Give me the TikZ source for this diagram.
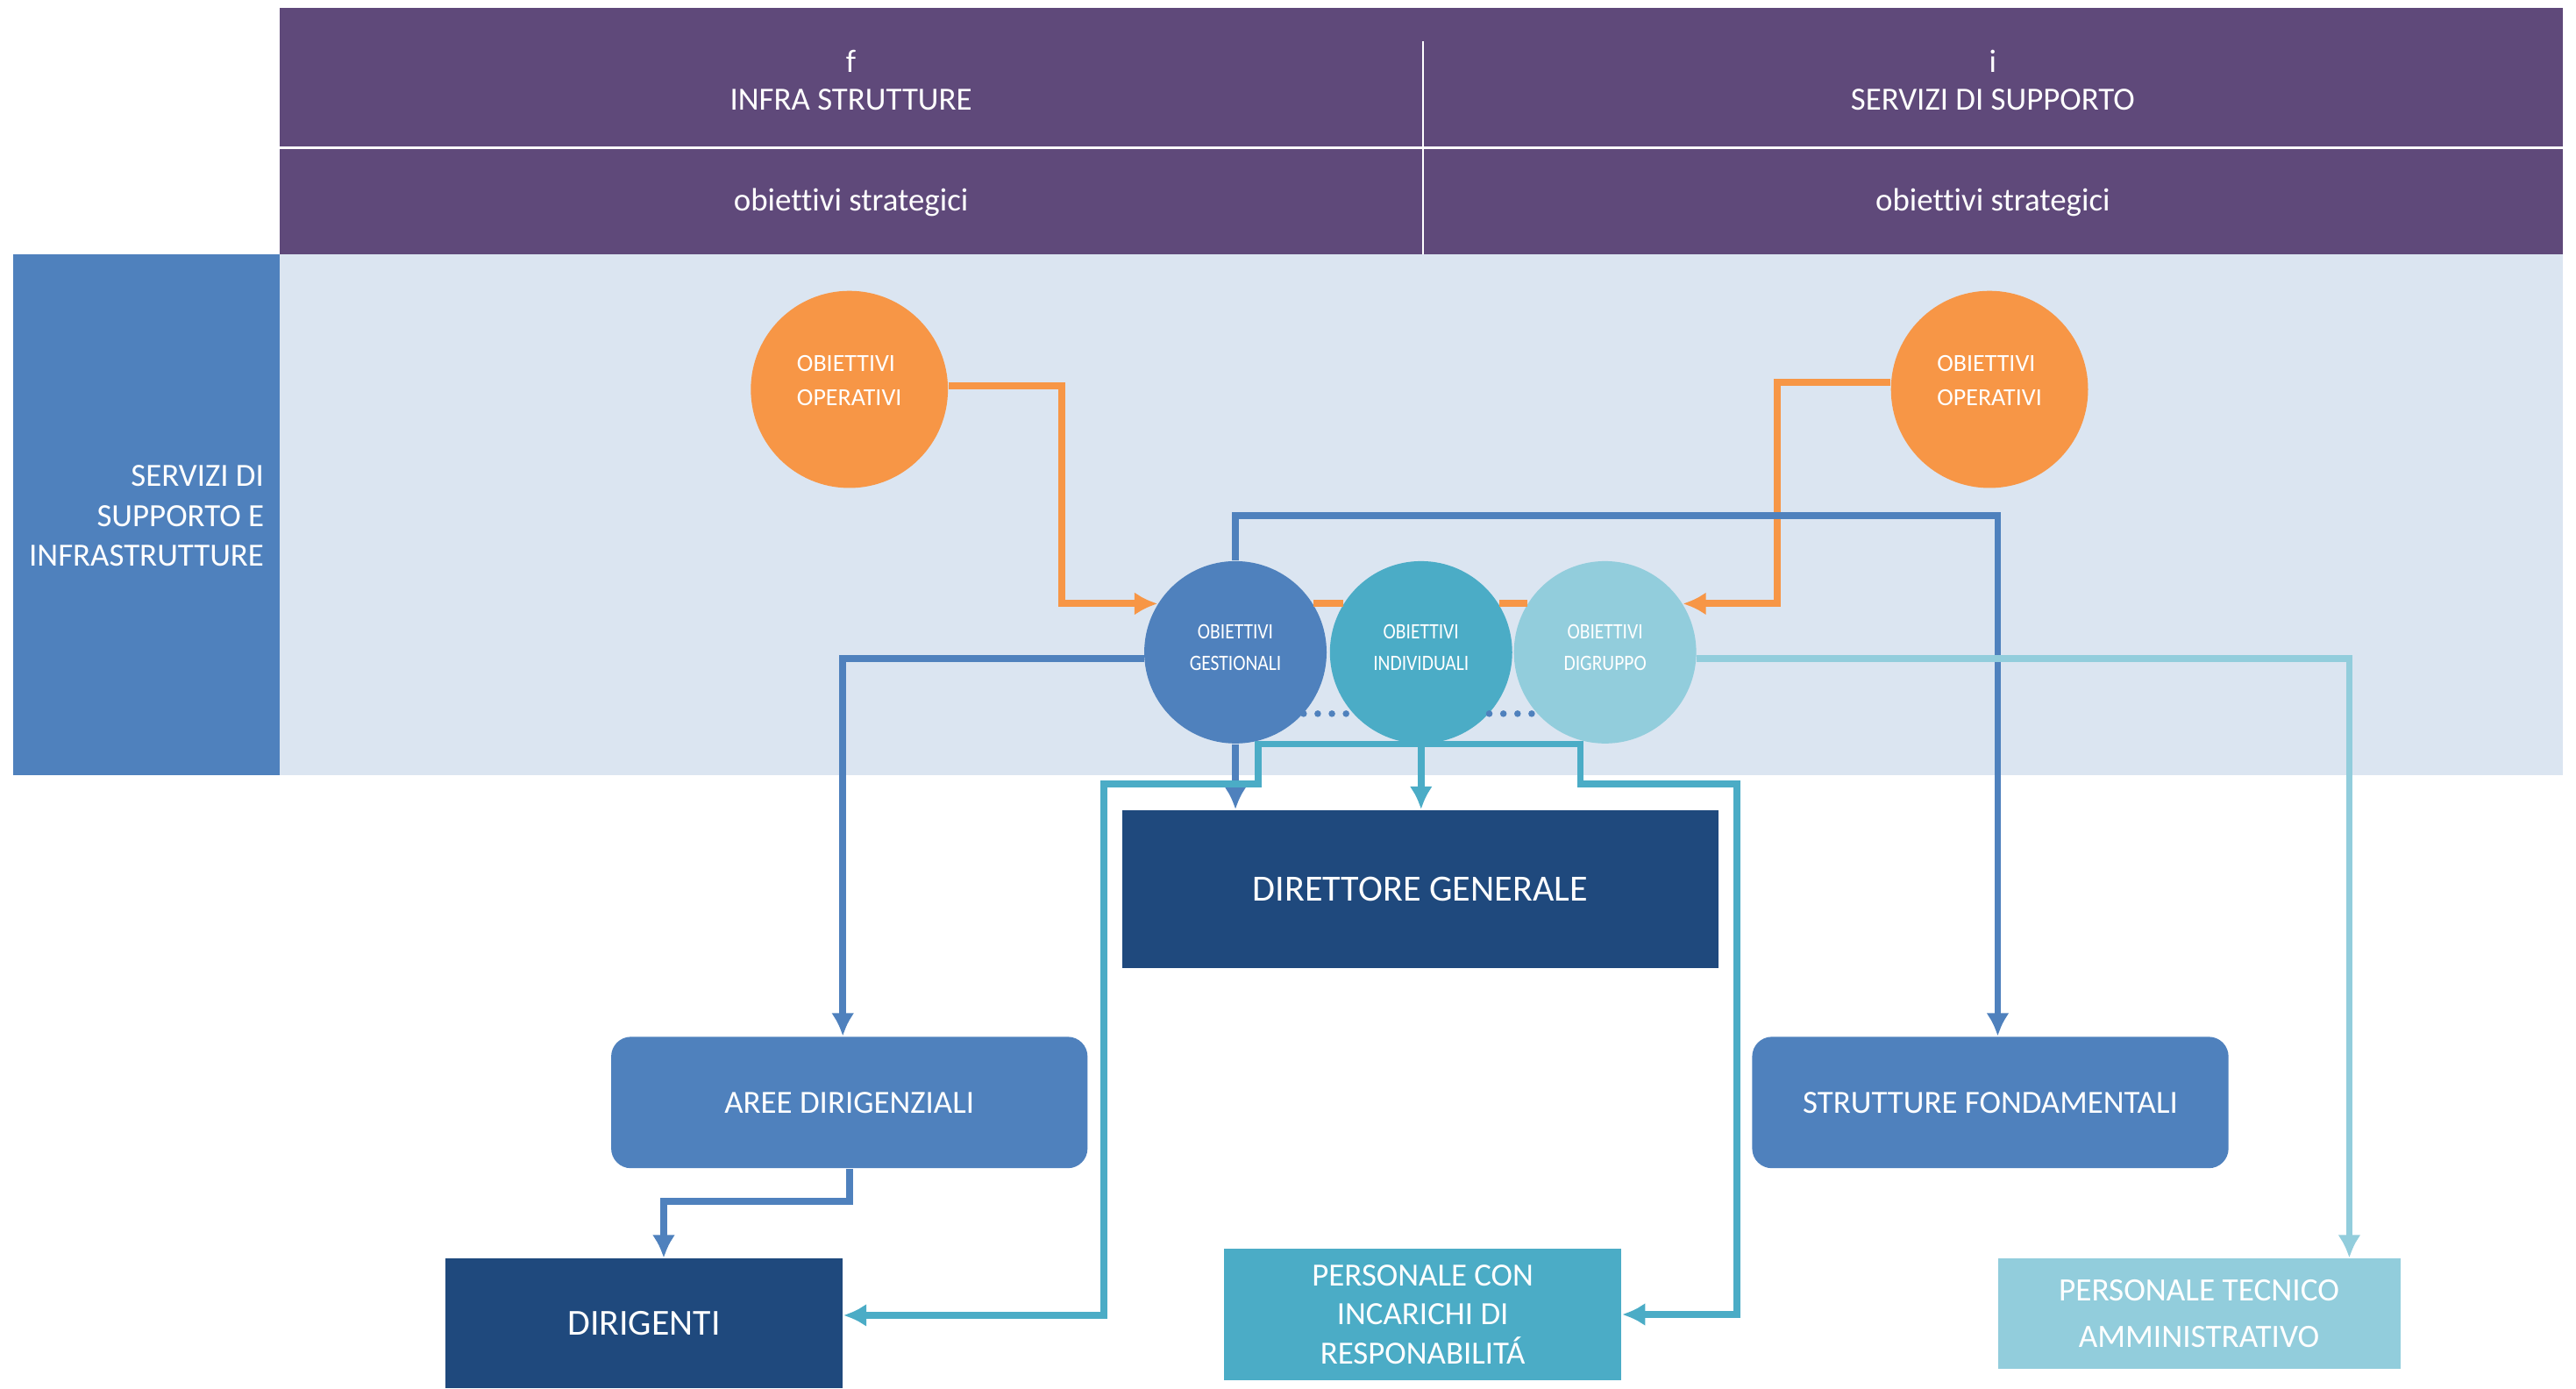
\documentclass[tikz,border=0pt]{standalone}
\usepackage{fontspec}
\setmainfont{Carlito}[Ligatures=CommonOff]
\newfontfamily\narrowfont{Carlito}[FakeStretch=0.86]
\usetikzlibrary{arrows.meta,calc,positioning}

\definecolor{headpurple}{HTML}{5F497A}
\definecolor{accblue}{HTML}{4F81BD}
\definecolor{paleblue}{HTML}{DBE5F1}
\definecolor{accorange}{HTML}{F79646}
\definecolor{accteal}{HTML}{4BACC6}
\definecolor{lightteal}{HTML}{92CDDC}
\definecolor{navy}{HTML}{1F497D}

\begin{document}
\begin{tikzpicture}[x=0.02cm, y=-0.02cm,
    hdr/.style={text=white, align=center, inner sep=0pt, font=\fontsize{11.2}{13}\selectfont},
    box/.style={rectangle, inner sep=0pt, text=white, align=center, font=\fontsize{11.2}{13.9}\selectfont},
    roundbox/.style={box, rounded corners=0.24cm, fill=accblue, minimum width=5.8cm, minimum height=1.6cm},
    opcirc/.style={circle, fill=accorange, minimum size=2.4cm, inner sep=0pt, text=white, align=left,
        text depth=0.22cm, font=\fontsize{8.5}{12}\selectfont},
    objcirc/.style={circle, minimum size=2.22cm, inner sep=0pt, text=white, align=center,
        text depth=0.12cm, font=\narrowfont\fontsize{7.6}{10.8}\selectfont},
    conn/.style={line width=2.4pt, -{Latex[length=8pt,width=8pt]}},
    dots/.style={accblue, line width=2.3pt, line cap=round, dash pattern=on 0pt off 4.9pt}]
    \useasboundingbox (0,0) rectangle (1568,845);

    % bands
    \fill[headpurple] (170,5) rectangle (1560,155);
    \fill[paleblue] (170,155) rectangle (1560,472);
    \fill[accblue] (8,155) rectangle (170,472);
    \draw[white, line width=1pt] (170,90) -- (1560,90);
    \draw[white, line width=0.6pt] (866,25) -- (866,155);

    % header and side labels
    \node[hdr] (hinfra) at (518,49) {f\\INFRA STRUTTURE};
    \node[hdr] (hserv) at (1213,49) {i\\SERVIZI DI SUPPORTO};
    \node[hdr] (hobjl) at (518,123) {obiettivi strategici};
    \node[hdr] (hobjr) at (1213,123) {obiettivi strategici};
    \node[hdr, anchor=east, align=right, font=\fontsize{11.2}{13.9}\selectfont] (side) at (161,314)
        {SERVIZI DI\\SUPPORTO E\\INFRASTRUTTURE};

    % objectives
    \node[opcirc] (opl) at (517,237) {OBIETTIVI\\OPERATIVI};
    \node[opcirc] (opr) at (1211,237) {OBIETTIVI\\OPERATIVI};
    \node[objcirc, fill=accblue] (gest) at (752,397) {OBIETTIVI\\GESTIONALI};
    \node[objcirc, fill=accteal] (indiv) at (865,397) {OBIETTIVI\\INDIVIDUALI};
    \node[objcirc, fill=lightteal] (digr) at (977,397) {OBIETTIVI\\DIGRUPPO};

    % targets
    \node[box, fill=navy, minimum width=7.26cm, minimum height=1.92cm,
        font=\fontsize{12.8}{15}\selectfont] (dg) at (864.5,541) {DIRETTORE GENERALE};
    \node[roundbox] (aree) at (517,671) {AREE DIRIGENZIALI};
    \node[roundbox] (strut) at (1211.5,671) {STRUTTURE FONDAMENTALI};
    \node[box, fill=navy, minimum width=4.84cm, minimum height=1.58cm,
        font=\fontsize{12.7}{15}\selectfont] (dirig) at (392,805.5) {DIRIGENTI};
    \node[box, fill=accteal, minimum width=4.84cm, minimum height=1.6cm,
        font=\fontsize{11.2}{13.6}\selectfont] (pcon) at (866,800) {PERSONALE CON\\INCARICHI DI\\RESPONABILITÁ};
    \node[box, fill=lightteal, minimum width=4.9cm, minimum height=1.34cm,
        font=\fontsize{11.3}{15.9}\selectfont] (pta) at (1338.5,799.5) {PERSONALE TECNICO\\AMMINISTRATIVO};

    % orange links
    \draw[conn, accorange] (opl.2) -- ++(69,0) |- (gest.148);
    \draw[conn, accorange] (opr.176) -- ++(-69,0) |- (digr.32);
    \draw[accorange, line width=2.4pt] (gest.32) -- (indiv.148);
    \draw[accorange, line width=2.4pt] (indiv.32) -- (digr.148);
    \draw[dots] (gest.-42) -- (indiv.-138);
    \draw[dots] (indiv.-42) -- (digr.-138);

    % blue links
    \draw[conn, accblue] (gest.north) -- (752,314) -| ($(strut.north)+(4.5,0)$);
    \draw[conn, accblue] (gest.184) -| ($(aree.north)+(-4,0)$);
    \draw[conn, accblue] (gest.south) -- (gest.south |- dg.north);
    \draw[conn, accblue] (aree.south) -- ++(0,20) -| ($(dirig.north)+(12,0)$);

    % teal links
    \draw[conn, accteal] (indiv.south) -- (indiv.south |- dg.north);
    \draw[conn, accteal] (indiv.south) -| (766,477) -| (672,600) |- ($(dirig.east)+(0,-5)$);
    \draw[conn, accteal] (indiv.south) -| (962,477) -| (1057,600) |- (pcon.east);
    \draw[conn, lightteal] (digr.-4) -| ($(pta.north)+(91.5,0)$);
\end{tikzpicture}
\end{document}
